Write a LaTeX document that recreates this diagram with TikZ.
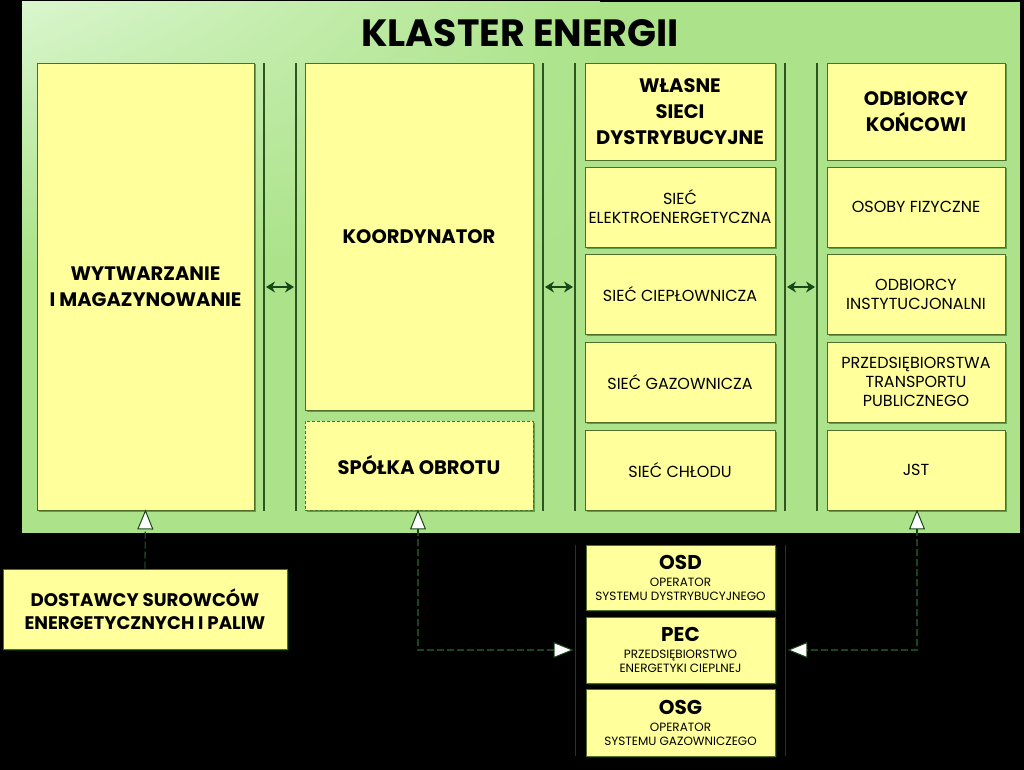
\documentclass[tikz,border=0pt]{standalone}
\usepackage{fontspec}
\setmainfont{Poppins}
\usetikzlibrary{arrows.meta,shadows,shadings}
\definecolor{panelgreen}{RGB}{172,227,138}
\definecolor{panellight}{RGB}{218,246,206}
\definecolor{boxyellow}{RGB}{255,255,155}
\definecolor{boxborder}{RGB}{80,110,40}
\definecolor{sepline}{RGB}{45,85,30}
\definecolor{darrow}{RGB}{25,70,25}
\newcommand{\fsz}[2]{\fontsize{#1}{#2}\selectfont}
\newcommand{\hdr}[1]{{\bfseries\fsz{20}{22}#1}}
\tikzset{
  ybox/.style={draw=boxborder, line width=0.9pt, fill=boxyellow, inner sep=2pt,
    align=center, text=black,
    drop shadow={shadow xshift=1.5pt, shadow yshift=-1.5pt, opacity=0.45, fill=black!70!green}},
  bigt/.style={font=\bfseries\fsz{19.5}{26}},
  smallt/.style={font=\fsz{16}{19}},
  opbox/.style={ybox, font=\fsz{12}{14}, minimum width=189pt, drop shadow={opacity=0}},
  sep/.style={draw=sepline, line width=1.1pt},
  sepdark/.style={draw=sepline!70!black, line width=0.9pt},
  dbl/.style={darrow, line width=2.6pt, {Stealth[length=9pt,width=11pt]}-{Stealth[length=9pt,width=11pt]}},
  tri/.tip={Triangle[length=20pt,width=16pt,fill=white,line width=1pt]},
  feed/.style={draw=darrow, line width=1.3pt, dash pattern=on 7pt off 3pt, -tri},
  feed2/.style={feed, tri-tri},
}
\begin{document}
\begin{tikzpicture}[x=1pt,y=-1pt]
\fill[black] (0,0) rectangle (1024,770);
\useasboundingbox (0,0) rectangle (1024,770);
% panel
\fill[panelgreen] (22,2) rectangle (1020,533);
\shade[upper left=panellight, upper right=panelgreen, lower left=panelgreen, lower right=panelgreen]
  (22,2) rectangle (600,260);
\node[font=\bfseries\fsz{38}{40}] (title) at (520,33) {KLASTER ENERGII};

% separator lines
\foreach \x in {264,296,543,575,785,817} { \draw[sep] (\x,63) -- (\x,511); }
\foreach \x in {575,785} { \draw[sepdark] (\x,545) -- (\x,756); }

% column 1
\node[ybox, bigt, minimum width=217pt, minimum height=447pt] (wyt) at (145.5,286.5) {WYTWARZANIE\\I MAGAZYNOWANIE};
% column 2
\node[ybox, bigt, minimum width=228pt, minimum height=347pt] (koord) at (419,236.5) {KOORDYNATOR};
\node[ybox, bigt, dash pattern=on 3pt off 2pt, minimum width=228pt, minimum height=89pt] (spolka) at (419,465.5) {SPÓŁKA OBROTU};
% column 3
\node[ybox, bigt, minimum width=190pt, minimum height=97pt] (wlasne) at (680,111.5) {WŁASNE\\SIECI\\DYSTRYBUCYJNE};
\node[ybox, smallt, minimum width=190pt, minimum height=80pt] (el) at (680,207) {SIEĆ\\ELEKTROENERGETYCZNA};
\node[ybox, smallt, minimum width=190pt, minimum height=80pt] (ciep) at (680,294) {SIEĆ CIEPŁOWNICZA};
\node[ybox, smallt, minimum width=190pt, minimum height=80pt] (gaz) at (680,382) {SIEĆ GAZOWNICZA};
\node[ybox, smallt, minimum width=190pt, minimum height=80pt] (chlod) at (680,470) {SIEĆ CHŁODU};
% column 4
\node[ybox, bigt, minimum width=178pt, minimum height=97pt] (odb) at (916,111.5) {ODBIORCY\\KOŃCOWI};
\node[ybox, smallt, minimum width=178pt, minimum height=80pt] (osoby) at (916,207) {OSOBY FIZYCZNE};
\node[ybox, smallt, minimum width=178pt, minimum height=80pt] (inst) at (916,294) {ODBIORCY\\INSTYTUCJONALNI};
\node[ybox, smallt, minimum width=178pt, minimum height=80pt] (przed) at (916,382) {PRZEDSIĘBIORSTWA\\TRANSPORTU\\PUBLICZNEGO};
\node[ybox, smallt, minimum width=178pt, minimum height=80pt] (jst) at (916,470) {JST};

% bottom boxes
\node[ybox, font=\bfseries\fsz{18.2}{23}, minimum width=284pt, minimum height=80pt, drop shadow={opacity=0}] (dost) at (145,609) {DOSTAWCY SUROWCÓW\\ENERGETYCZNYCH I PALIW};
\node[opbox, minimum height=65pt] (osd) at (680.5,577.5)
  {\hdr{OSD}\\[3pt]OPERATOR\\SYSTEMU DYSTRYBUCYJNEGO};
\node[opbox, minimum height=66pt] (pec) at (680.5,650)
  {\hdr{PEC}\\[3pt]PRZEDSIĘBIORSTWO\\ENERGETYKI CIEPLNEJ};
\node[opbox, minimum height=67pt] (osg) at (680.5,722.5)
  {\hdr{OSG}\\[3pt]OPERATOR\\SYSTEMU GAZOWNICZEGO};

% double arrows between columns
\coordinate (a1l) at (266,287); \coordinate (a1r) at (294,287);
\coordinate (a2l) at (545,287); \coordinate (a2r) at (573,287);
\coordinate (a3l) at (787,287); \coordinate (a3r) at (815,287);
\draw[dbl] (a1l) -- (a1r);
\draw[dbl] (a2l) -- (a2r);
\draw[dbl] (a3l) -- (a3r);

% feed arrows
\draw[feed] (dost.north) -- ([yshift=1pt]wyt.south);
\coordinate (spc) at (418,650);
\coordinate (jsc) at (917,650);
\draw[feed2] ([xshift=-1pt,yshift=1pt]spolka.south) -- (spc) -- ([xshift=-12pt]pec.west);
\draw[feed2] ([xshift=1pt,yshift=1pt]jst.south) -- (jsc) -- ([xshift=12pt]pec.east);
\end{tikzpicture}
\end{document}
